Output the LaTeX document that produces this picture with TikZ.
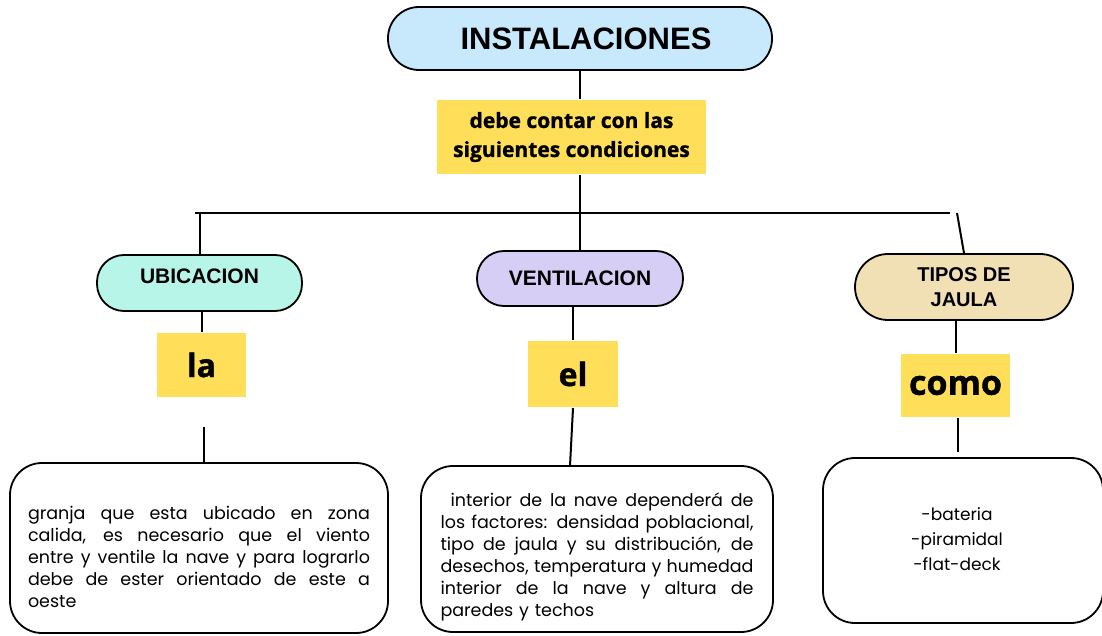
\documentclass[tikz,border=0pt]{standalone}
\usepackage{fontspec}
\setmainfont{Liberation Sans}
\newfontfamily\tagfont{Open Sans}[BoldFeatures={FakeBold=1.2}]
\newfontfamily\bodyfont{Poppins}
\newcommand{\jline}[2]{\makebox[#1][s]{\spaceskip=0pt\xspaceskip=0pt #2}}

\begin{document}
\begin{tikzpicture}[x=1pt, y=-1pt, line width=2pt,
    pill/.style={draw, line width=1.8pt, rounded corners=27pt, inner sep=0pt,
      font=\bfseries\fontsize{21}{25}\selectfont},
    tag/.style={fill=tagcolor, inner sep=0pt,
      font=\tagfont\bfseries\fontsize{32}{36}\selectfont},
    card/.style={draw, line width=1.8pt, rounded corners=32pt, inner sep=0pt,
      font=\bodyfont\fontsize{17.5}{22}\selectfont}]
    % Define colors
    \definecolor{instcolor}{RGB}{200, 232, 252}
    \definecolor{ubiccolor}{RGB}{183, 245, 232}
    \definecolor{ventcolor}{RGB}{214, 206, 245}
    \definecolor{tiposcolor}{RGB}{241, 224, 180}
    \definecolor{tagcolor}{RGB}{255, 222, 89}

    \useasboundingbox (0,0) rectangle (1102,636);

    % title and question
    \node[pill, fill=instcolor, minimum width=384pt, minimum height=63pt, rounded corners=31pt,
      font=\bfseries\fontsize{31}{36}\selectfont] (inst) at (580,38.5) {\hspace*{12pt}INSTALACIONES};
    \node[fill=tagcolor, inner sep=0pt, minimum width=269pt, minimum height=74pt, align=center,
      font=\tagfont\bfseries\fontsize{21}{29}\selectfont] (cond) at (571.5,137)
      {debe contar con las\\siguientes condiciones};

    % three branches
    \node[pill, fill=ubiccolor, minimum width=205pt, minimum height=56pt, text depth=13pt] (ubic) at (199.5,283) {UBICACION};
    \node[pill, fill=ventcolor, minimum width=206pt, minimum height=55pt] (vent) at (580,278.5) {VENTILACION};
    \node[pill, fill=tiposcolor, minimum width=218pt, minimum height=66pt, rounded corners=33pt, align=center,
      font=\bfseries\fontsize{20}{25}\selectfont] (tipos) at (964,287) {TIPOS DE\\JAULA};

    \node[tag, minimum width=89pt, minimum height=64pt] (la) at (201.5,365) {la};
    \node[tag, minimum width=90pt, minimum height=66pt] (el) at (573,374) {el};
    \node[tag, minimum width=109pt, minimum height=63pt,
      font=\tagfont\bfseries\fontsize{34}{38}\selectfont] (como) at (955.5,385.5) {como};

    \node[card, minimum width=378pt, minimum height=170pt, text width=342pt, align=left] (ubictxt) at (199,548) {%
      \rule{0pt}{32pt}\jline{342pt}{granja que esta ubicado en zona}\\
      \jline{342pt}{calida, es necesario que el viento}\\
      \jline{342pt}{entre y ventile la nave y para lograrlo}\\
      \jline{342pt}{debe de ester orientado de este a}\\
      oeste};
    \node[card, minimum width=352pt, minimum height=166pt, text width=313pt, align=left] (venttxt) at (597,549) {%
      \rule{0pt}{30.5pt}\jline{313pt}{\hspace*{10pt}interior de la nave dependerá de}\\
      \jline{313pt}{los factores: densidad poblacional,}\\
      \jline{313pt}{tipo de jaula y su distribución, de}\\
      \jline{313pt}{desechos, temperatura y humedad}\\
      \jline{313pt}{interior de la nave y altura de}\\
      paredes y techos};
    \node[card, minimum width=280pt, minimum height=165pt,
      font=\bodyfont\fontsize{17}{25}\selectfont] (tipostxt) at (963,540.5)
      {\begin{tabular}{@{}c@{\hspace{12pt}}}-bateria\\-piramidal\\-flat-deck\end{tabular}};

    % connectors
    \coordinate (barL) at (195,213);
    \coordinate (barR) at (950,213);
    \coordinate (tipstop) at (957,213);
    \coordinate (lagap) at (204,427);
    \coordinate (elend) at (570,466);
    \coordinate (comoend) at (958,452);

    \draw (barL) -- (barR);
    \draw (inst.south) -- (inst.south |- cond.north);
    \draw (vent.north |- cond.south) -- (vent.north);
    \draw (ubic.north |- barL) -- (ubic.north);
    \draw (tipstop) -- (tipos.north);
    \draw (la.north) -- (la.north |- ubic.south);
    \draw (lagap) -- (lagap |- ubictxt.north);
    \draw (el.north) -- (el.north |- vent.south);
    \draw (el.south) -- (elend);
    \draw (como.north) -- (como.north |- tipos.south);
    \draw (como.south -| comoend) -- (comoend);
\end{tikzpicture}
\end{document}
